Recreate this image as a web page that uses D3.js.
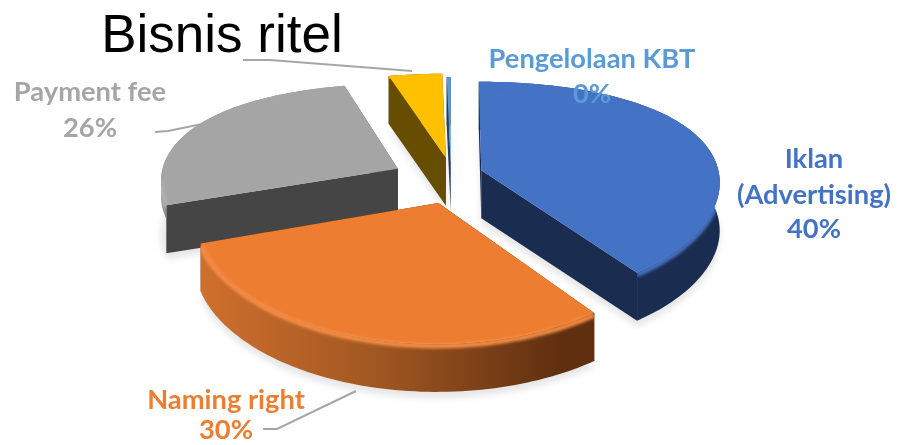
<!DOCTYPE html>
<html>
<head>
<meta charset="utf-8">
<script src="https://cdn.jsdelivr.net/npm/d3@7"></script>
<style>
html,body{margin:0;padding:0;background:#fff;overflow:hidden}
svg{display:block}
text{font-family:Lato,"Open Sans",sans-serif;font-weight:700;text-anchor:middle}
</style>
</head>
<body>
<svg id="chart" width="904" height="445"></svg>
<script>
// Revenue share by source
const categories = ["Iklan (Advertising)", "Naming right", "Payment fee", "Bisnis ritel", "Pengelolaan KBT"];
const shares = [40, 30, 26, 4, 0.3];
const topColors = ["#4472c4", "#ed7d31", "#a5a5a5", "#ffc000", "#5b9bd5"];
const faceColors = ["#1a2c50", "#5f2f10", "#454545", "#664d00", "#25405f"];
const rimColors = ["#4472c4", "#f58d45", "#b0b0b0", "#ffc000", "#5b9bd5"];
const explode = [32, 45, 62, 36, 30];
const nudgeX = [0, 1, 1, 0, 0];
const nudgeY = [-1, 6, 6, -2, 0];

// Viewing model of the tilted disc
const cx = 451, cy = 176, R = 238, persp = 0.16, depth = 48;
const tiltA = 0.47, tiltB = 0.09, xPersp = 0.6;

function project(x, y, z) {
  const u = y / R;
  const s = 1 / (1 - persp * u);
  return [cx + x * (1 + (s - 1) * xPersp), cy + (tiltA * u + tiltB * u * u) * R + z];
}

const svg = d3.select("#chart");
const defs = svg.append("defs");
const soft = defs.append("filter").attr("id", "soft").attr("x", "-20%").attr("y", "-20%").attr("width", "140%").attr("height", "140%");
soft.append("feGaussianBlur").attr("stdDeviation", 1.5);
const shadowBlur = defs.append("filter").attr("id", "shadow").attr("x", "-20%").attr("y", "-20%").attr("width", "140%").attr("height", "140%");
shadowBlur.append("feGaussianBlur").attr("stdDeviation", 3);

const orangeRamp = defs.append("linearGradient").attr("id", "orangeWall")
  .attr("gradientUnits", "userSpaceOnUse").attr("x1", 197).attr("x2", 560).attr("y1", 0).attr("y2", 0);
orangeRamp.append("stop").attr("offset", 0).attr("stop-color", "#d0702d");
orangeRamp.append("stop").attr("offset", 0.5).attr("stop-color", "#a05722");
orangeRamp.append("stop").attr("offset", 1).attr("stop-color", "#5f2f10");

const pie = d3.pie().sort(null).value(d => d)(shares);
const line = d3.line();

const slices = pie.map((d, i) => {
  const mid = (d.startAngle + d.endAngle) / 2;
  const ox = Math.sin(mid) * explode[i];
  const oy = -Math.cos(mid) * explode[i];
  const count = Math.max(2, Math.ceil((d.endAngle - d.startAngle) * 40));
  const angles = d3.range(count + 1).map(k => d.startAngle + (d.endAngle - d.startAngle) * k / count);
  const place = (x, y, z) => {
    const p = project(x, y, z);
    return [p[0] + nudgeX[i], p[1] + nudgeY[i]];
  };
  const rim = z => angles.map(a => place(ox + R * Math.sin(a), oy - R * Math.cos(a), z));
  const apex = z => place(ox, oy, z);
  return {i, rim, apex};
});

// Paint from the back of the disc to the front
const paintOrder = [2, 3, 4, 0, 1];

// Soft ground shadow below the raised slices
svg.append("g").attr("filter", "url(#shadow)").selectAll("path")
  .data(paintOrder.map(i => slices[i])).join("path")
  .attr("d", s => line([s.apex(depth + 6), ...s.rim(depth + 6)]) + "Z")
  .attr("fill", "#dcdcdc").attr("opacity", 0.7);

const layers = svg.append("g").selectAll("g").data(paintOrder.map(i => slices[i])).join("g");

layers.each(function (s) {
  const g = d3.select(this);
  const top = s.rim(0), low = s.rim(depth);
  const wall = s.i === 1 ? "url(#orangeWall)" : (s.i === 2 ? "#8c8c8c" : faceColors[s.i]);
  // The grey slice shows only a short strip of its curved wall
  const wallLow = s.i === 2 ? s.rim(14) : low;
  const outline = line([...top, ...wallLow.slice().reverse()]) + "Z";
  const face = line([s.apex(0), ...top]) + "Z";

  // Rim highlight stays inside the solid body
  defs.append("clipPath").attr("id", "body" + s.i)
    .selectAll("path").data([outline, face]).join("path").attr("d", d => d);

  // Cut faces
  [0, top.length - 1].forEach(k => {
    g.append("path")
      .attr("d", line([s.apex(0), top[k], low[k], s.apex(depth)]) + "Z")
      .attr("fill", faceColors[s.i]);
  });
  // Outer curved wall
  g.append("path").attr("d", outline).attr("fill", wall);
  // Top face
  g.append("path").attr("d", face).attr("fill", topColors[s.i]);
  // Rounded rim between wall and top
  g.append("g").attr("clip-path", "url(#body" + s.i + ")").append("path")
    .attr("d", line(s.rim(2)))
    .attr("fill", "none")
    .attr("stroke", rimColors[s.i])
    .attr("stroke-width", 5)
    .attr("filter", "url(#soft)");
});

// Leader lines
const leaders = [
  [[243, 60], [270, 60], [412, 71]],
  [[155, 132], [168, 131], [202, 124]],
  [[263, 429], [277, 429], [356, 391]]
];
svg.append("g").selectAll("path").data(leaders).join("path")
  .attr("d", line).attr("fill", "none").attr("stroke", "#a6a6a6").attr("stroke-width", 2);

// Data labels
const labelRows = [
  {i: 0, rows: ["Iklan", "(Advertising)", "40%"], x: 814, y: [168, 204, 238]},
  {i: 1, rows: ["Naming right", "30%"], x: 226, y: [409, 439]},
  {i: 2, rows: ["Payment fee", "26%"], x: 90, y: [101, 137]},
  {i: 4, rows: ["Pengelolaan KBT", "0%"], x: 592, y: [68, 103]}
];
labelRows.forEach(l => {
  l.rows.forEach((t, k) => {
    svg.append("text").attr("x", l.x).attr("y", l.y[k])
      .attr("fill", topColors[l.i]).attr("font-size", 27.3).text(t);
  });
});

// Label of the small yellow slice
svg.append("text").attr("x", 222).attr("y", 52)
  .style("font-family", "'Liberation Sans',Arial,sans-serif").style("font-weight", 400)
  .attr("font-size", 53).attr("fill", "#000").text(categories[3]);
</script>
</body>
</html>
